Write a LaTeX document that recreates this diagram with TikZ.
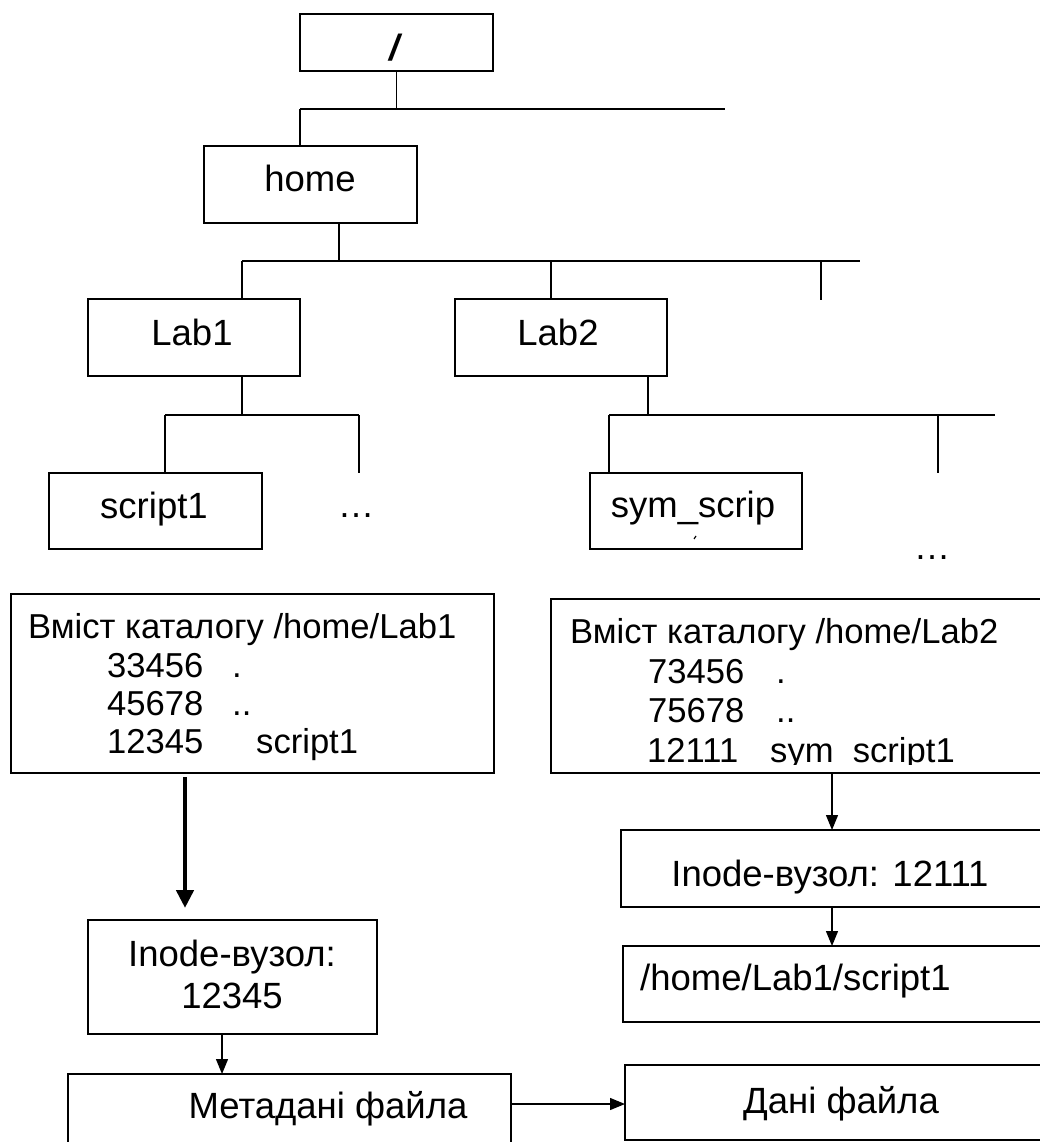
\documentclass[tikz,border=0pt]{standalone}
\usepackage{fontspec}
\setmainfont{Liberation Sans}
\usetikzlibrary{arrows.meta}

\begin{document}
\begin{tikzpicture}[x=1pt,y=-1pt,
  box/.style={draw, line width=1.9pt, inner sep=0pt, outer sep=0pt},
  lbl/.style={anchor=base, inner sep=0pt, font=\fontsize{36.5}{40}\selectfont},
  lblw/.style={anchor=base west, inner sep=0pt, font=\fontsize{36.5}{40}\selectfont},
  row/.style={anchor=base west, inner sep=0pt, font=\fontsize{34.6}{38}\selectfont},
  wire/.style={line width=1.3pt},
  bar/.style={line width=2pt},
  arr/.style={wire, -{Triangle[length=15pt,width=12pt]}},
  bigarr/.style={line width=4.5pt, -{Triangle[length=18pt,width=17pt]}},
]
\useasboundingbox (0,0) rectangle (1040,1142);
\clip (0,0) rectangle (1040,1142);

% ---------- directory tree ----------
\node[box, minimum width=193pt, minimum height=57pt] (root) at (396.5,42.5) {};
\node[lbl, font=\fontsize{36.5}{40}\selectfont\bfseries\itshape] (rootname) at (395,61) {/};

\node[box, minimum width=213pt, minimum height=77pt] (home) at (310.5,184.5) {};
\node[lbl] (homename) at (310,192) {home};

\node[box, minimum width=212pt, minimum height=77pt] (lab1) at (194,337.5) {};
\node[lbl] (lab1name) at (192,345) {Lab1};
\node[box, minimum width=212pt, minimum height=77pt] (lab2) at (561,337.5) {};
\node[lbl] (lab2name) at (558,345) {Lab2};

\node[box, minimum width=213pt, minimum height=76pt] (script) at (155.5,511) {};
\node[lbl] (scriptname) at (154,518) {script1};
\node[lbl] (more1) at (356,517) {…};

\node[box, minimum width=212pt, minimum height=76pt] (sym) at (696,511) {};
\node[lbl] (symname) at (693,517) {sym\_scrip};
\draw[line width=1.2pt] (694,539) -- (696,536);
\node[lbl] (more2) at (932,559) {…};

% branch points of the tree
\coordinate (b1L) at (300,109);  \coordinate (b1R) at (725,109);
\coordinate (b2L) at (242,261);  \coordinate (b2R) at (860,261);
\coordinate (b2M) at (551,261);  \coordinate (b2X) at (821,261);
\coordinate (b2T) at (821,300);  \coordinate (j2) at (339,261);
\coordinate (b3L) at (165,415);  \coordinate (b3R) at (359,415);
\coordinate (b3T) at (359,473);
\coordinate (b4L) at (609,415);  \coordinate (b4R) at (995,415);
\coordinate (b4X) at (938,415);  \coordinate (b4T) at (938,473);
\coordinate (j4) at (648,415);

\draw[wire] (root.south) -- (root.south |- b1L);
\draw[bar] (b1L) -- (b1R);
\draw[wire] (b1L) -- (home.north -| b1L);

\draw[wire] (home.south -| j2) -- (j2);
\draw[bar] (b2L) -- (b2R);
\draw[wire] (b2L) -- (lab1.north -| b2L);
\draw[wire] (b2M) -- (lab2.north -| b2M);
\draw[wire] (b2X) -- (b2T);

\draw[wire] (lab1.south -| b2L) -- (b2L |- b3L);
\draw[bar] (b3L) -- (b3R);
\draw[wire] (b3L) -- (script.north -| b3L);
\draw[wire] (b3R) -- (b3T);

\draw[wire] (lab2.south -| j4) -- (j4);
\draw[bar] (b4L) -- (b4R);
\draw[wire] (b4L) -- (sym.north -| b4L);
\draw[wire] (b4X) -- (b4T);

% ---------- directory contents ----------
\node[box, minimum width=483pt, minimum height=179pt] (dir1) at (252.5,683.5) {};
\node[row] (d1head) at (28,638) {Вміст каталогу /home/Lab1};
\node[row] (d1n1) at (107,677) {33456};
\node[row] (d1f1) at (232,677) {.};
\node[row] (d1n2) at (107,715) {45678};
\node[row] (d1f2) at (232,715) {..};
\node[row] (d1n3) at (107,753) {12345};
\node[row] (d1f3) at (256,753) {script1};

\node[box, minimum width=519pt, minimum height=174pt] (dir2) at (810.5,686) {};
\node[row] (d2head) at (570,643) {Вміст каталогу /home/Lab2};
\node[row] (d2n1) at (648,683) {73456};
\node[row] (d2f1) at (776,683) {.};
\node[row] (d2n2) at (648,722) {75678};
\node[row] (d2f2) at (776,722) {..};
\begin{scope}
  \clip (551,599) rectangle (1040,764);
  \node[row] (d2n3) at (647,762) {12111};
  \node[row] (d2f3) at (770,762) {sym\_script1};
\end{scope}

% ---------- hard link chain ----------
\node[box, minimum width=289pt, minimum height=114pt] (inode1) at (232.5,977) {};
\node[lbl] (inode1a) at (232,966) {Inode-вузол:};
\node[lbl] (inode1b) at (232,1008) {12345};

\node[box, minimum width=443pt, minimum height=96pt] (meta) at (289.5,1122) {};
\node[lbl] (metaname) at (328,1118) {Метадані файла};

\node[box, minimum width=445pt, minimum height=75pt] (data) at (847.5,1102.5) {};
\node[lbl] (dataname) at (841,1113) {Дані файла};

\coordinate (t1) at (185,908);
\draw[bigarr, shorten <=4pt] (dir1.south -| t1) -- (t1);
\coordinate (a1) at (222,0);
\draw[arr] (inode1.south -| a1) -- (meta.north -| a1);
\coordinate (m) at (0,1104);
\draw[arr] (meta.east |- m) -- (data.west |- m);

% ---------- symbolic link chain ----------
\node[box, minimum width=449pt, minimum height=77pt] (inode2) at (845.5,868.5) {};
\node[lbl] (inode2name) at (830,886) {Inode-вузол: 12111};

\node[box, minimum width=447pt, minimum height=76pt] (target) at (846.5,984) {};
\node[lblw] (targetname) at (640,990) {/home/Lab1/script1};

\coordinate (a2) at (832,0);
\draw[arr] (dir2.south -| a2) -- (inode2.north -| a2);
\draw[arr] (inode2.south -| a2) -- (target.north -| a2);
\end{tikzpicture}
\end{document}
